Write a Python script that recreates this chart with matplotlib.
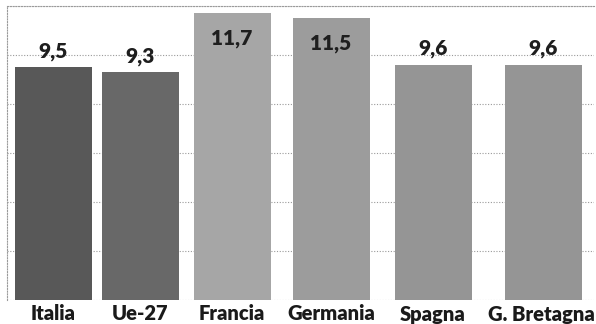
import matplotlib
matplotlib.use("Agg")
import matplotlib.pyplot as plt

# Data
categories = ["Italia", "Ue-27", "Francia", "Germania", "Spagna", "G. Bretagna"]
values = [9.5, 9.3, 11.7, 11.5, 9.6, 9.6]
value_labels = ["9,5", "9,3", "11,7", "11,5", "9,6", "9,6"]

# Layout / style
slot_x = [53, 140, 232, 331, 433, 543]
bar_colors = ["#585858", "#686868", "#a6a6a6", "#9c9c9c", "#959595", "#959595"]
bar_width = 77

plt.rcParams["font.family"] = ["Lato", "DejaVu Sans"]

W, H = 596, 324
fig = plt.figure(figsize=(W / 100, H / 100), dpi=100)
ax = fig.add_axes([7 / W, (H - 300) / H, (594 - 7) / W, (300 - 6) / H])

ax.set_xlim(7, 594)
ax.set_ylim(0, 12)
ax.set_yticks([0, 2, 4, 6, 8, 10, 12])
ax.yaxis.grid(True, color="#9a9a9a", linestyle=(0, (1, 1.5)), linewidth=0.8)
ax.set_axisbelow(True)
ax.tick_params(axis="y", left=False, labelleft=False)

bars = ax.bar(slot_x, values, width=bar_width, color=bar_colors, zorder=2)

for x, v, lab in zip(slot_x, values, value_labels):
    dy = -25 if v > 11 else 16
    ax.annotate(lab, (x, v), xytext=(0, dy), textcoords="offset pixels",
                ha="center", va="center", fontsize=15, fontweight="heavy",
                color="#1e1e1e", zorder=3)

# Category names under each bar (the last one kept inside the figure edge)
ax.set_xticks(slot_x)
ax.set_xticklabels([])
ax.tick_params(axis="x", bottom=False)
fig.canvas.draw()
renderer = fig.canvas.get_renderer()
for x, cat in zip(slot_x, categories):
    t = ax.annotate(cat, (x, 0), xytext=(0, -14), textcoords="offset pixels",
                    ha="center", va="center", fontsize=14.5, fontweight="heavy",
                    color="#1a1a1a", annotation_clip=False)
    bb = t.get_window_extent(renderer)
    overflow = bb.x1 - (W - 1)
    if overflow > 0:
        t.set_position((-overflow, -14))

for side in ["right", "bottom"]:
    ax.spines[side].set_visible(False)
for side in ["left", "top"]:
    ax.spines[side].set_color("#9a9a9a")
    ax.spines[side].set_linestyle((0, (1, 1.5)))
    ax.spines[side].set_linewidth(0.8)

fig.savefig("out.png", dpi=100, facecolor="white")
